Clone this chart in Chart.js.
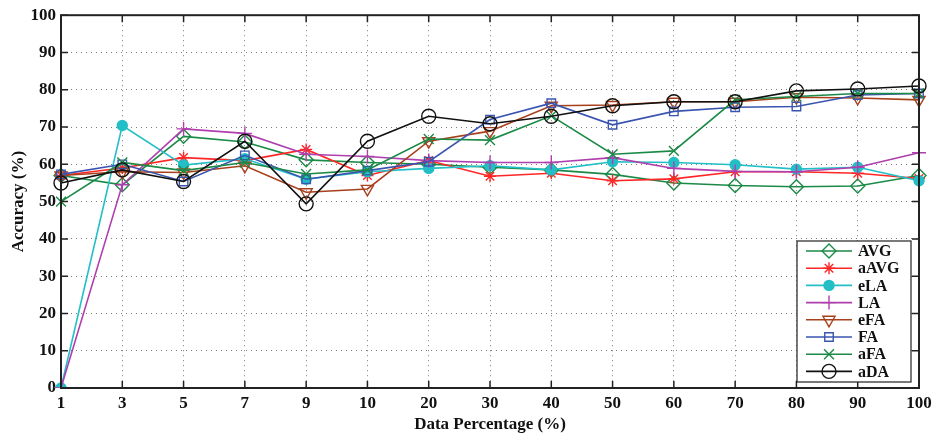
<!DOCTYPE html>
<html>
<head>
<meta charset="utf-8">
<script src="https://cdn.jsdelivr.net/npm/chart.js@4.4.0/dist/chart.umd.min.js"></script>
<style>
  html, body { margin: 0; padding: 0; background: #fff; }
</style>
</head>
<body>
<canvas id="accChart" width="932" height="438"></canvas>
<script>
const percentages = ['1', '3', '5', '7', '9', '10', '20', '30', '40', '50', '60', '70', '80', '90', '100']
const seriesNames = ['AVG', 'aAVG', 'eLA', 'LA', 'eFA', 'FA', 'aFA', 'aDA']

const avg  = [57, 54.5, 67.5, 66, 61.2, 60.5, 60, 59.2, 58.5, 57.3, 55, 54.3, 54, 54.2, 57]
const aAvg = [57, 59, 61.8, 61, 64, 57, 61, 56.8, 57.6, 55.6, 56.1, 58, 58, 57.6, 56.2]
const eLA  = [0, 70.4, 59.8, 61.5, 56, 58, 58.9, 59.6, 58.5, 60.7, 60.5, 59.9, 58.7, 59.2, 55.6]
const LA   = [0, 54.5, 69.5, 68.3, 62.7, 62.1, 61, 60.5, 60.5, 61.8, 58.9, 58.1, 58, 59.2, 63.1]
const eFA  = [57, 58, 57.8, 59.6, 52.5, 53.4, 66.2, 68.9, 75.7, 75.9, 76.8, 76.8, 78, 77.8, 77.3]
const FA   = [57.3, 60, 55.4, 62.4, 56, 58.3, 60.7, 72, 76.4, 70.6, 74.2, 75.3, 75.5, 78.6, 79]
const aFA  = [50, 60.5, 58.3, 60.5, 57.4, 58.5, 66.8, 66.5, 73, 62.7, 63.6, 77.3, 78.2, 79, 79]
const aDA  = [55, 58.5, 55.4, 66.2, 49.4, 66.2, 72.9, 70.9, 72.9, 75.7, 76.8, 76.8, 79.7, 80.2, 81]

const yTicks = [0, 10, 20, 30, 40, 50, 60, 70, 80, 90, 100]

const serif = "'Liberation Serif', 'Times New Roman', serif"

function series(label, data, color, pointStyle, radius, filled, rotation) {
  return {
    label: label,
    data: data,
    borderColor: color,
    backgroundColor: filled ? color : 'rgba(0,0,0,0)',
    borderWidth: 1.6,
    pointStyle: pointStyle,
    pointRadius: radius,
    pointRotation: rotation || 0,
    pointBorderColor: color,
    pointBackgroundColor: filled ? color : 'rgba(0,0,0,0)',
    pointBorderWidth: 1.4,
    tension: 0,
  }
}

const datasets = [
  series(seriesNames[0], avg, '#1b8a47', 'rectRot', 7, false),
  series(seriesNames[1], aAvg, '#ff2626', 'star', 6, false),
  series(seriesNames[2], eLA, '#22bfc6', 'circle', 5, true),
  series(seriesNames[3], LA, '#b03fae', 'cross', 7, false),
  series(seriesNames[4], eFA, '#a8401c', 'triangle', 7, false, 180),
  series(seriesNames[5], FA, '#3a55b0', 'rect', 6, false),
  series(seriesNames[6], aFA, '#1b8a47', 'crossRot', 7, false),
  series(seriesNames[7], aDA, '#111111', 'circle', 7, false),
]
// later series on top, like the original plot
datasets.forEach((d, i) => (d.order = datasets.length - i))

// axes box with inward ticks + boxed legend at lower right
const matlabFrame = {
  id: 'matlabFrame',
  afterDraw(chart) {
    const ctx = chart.ctx
    const area = chart.chartArea
    const xs = chart.scales.x
    const ys = chart.scales.y
    const tick = 7

    ctx.save()
    ctx.strokeStyle = '#222'
    ctx.lineWidth = 2
    ctx.strokeRect(area.left, area.top, area.right - area.left, area.bottom - area.top)

    ctx.lineWidth = 1.5
    ctx.beginPath()
    percentages.forEach((p, i) => {
      const x = xs.getPixelForValue(i)
      ctx.moveTo(x, area.bottom)
      ctx.lineTo(x, area.bottom - tick)
      ctx.moveTo(x, area.top)
      ctx.lineTo(x, area.top + tick)
    })
    yTicks.forEach((v) => {
      const y = ys.getPixelForValue(v)
      ctx.moveTo(area.left, y)
      ctx.lineTo(area.left + tick, y)
      ctx.moveTo(area.right, y)
      ctx.lineTo(area.right - tick, y)
    })
    ctx.stroke()

    // legend
    const boxW = 114
    const boxH = 141
    const bx = area.right - 8 - boxW
    const by = area.bottom - 6 - boxH
    ctx.fillStyle = '#fff'
    ctx.fillRect(bx, by, boxW, boxH)
    ctx.strokeStyle = '#222'
    ctx.lineWidth = 1.2
    ctx.strokeRect(bx, by, boxW, boxH)

    const rowH = 17.2
    ctx.font = 'bold 16px ' + serif
    ctx.textBaseline = 'middle'
    ctx.textAlign = 'left'
    chart.data.datasets.forEach((d, i) => {
      const y = by + 10 + i * rowH
      ctx.strokeStyle = d.borderColor
      ctx.lineWidth = 1.6
      ctx.beginPath()
      ctx.moveTo(bx + 9, y)
      ctx.lineTo(bx + 55, y)
      ctx.stroke()
      ctx.fillStyle = d.pointBackgroundColor
      ctx.strokeStyle = d.pointBorderColor
      ctx.lineWidth = d.pointBorderWidth
      Chart.helpers.drawPoint(ctx, {
        pointStyle: d.pointStyle,
        radius: d.pointRadius,
        rotation: d.pointRotation,
        borderWidth: d.pointBorderWidth,
      }, bx + 32, y)
      ctx.fillStyle = '#111'
      ctx.fillText(d.label, bx + 61, y + 1)
    })
    ctx.restore()
  },
}

new Chart(document.getElementById('accChart'), {
  type: 'line',
  data: { labels: percentages, datasets: datasets },
  options: {
    responsive: false,
    animation: false,
    devicePixelRatio: 1,
    layout: { padding: { top: 11, right: 13, left: 0, bottom: 0 } },
    plugins: { legend: { display: false }, tooltip: { enabled: false } },
    scales: {
      x: {
        type: 'category',
        offset: false,
        grid: { color: '#7a7a7a', lineWidth: 1, drawTicks: false },
        border: { display: false, dash: [1, 4] },
        ticks: {
          color: '#111',
          padding: 5,
          maxRotation: 0,
          autoSkip: false,
          font: { family: serif, size: 17, weight: 'bold' },
        },
        title: {
          display: true,
          text: 'Data Percentage (%)',
          color: '#111',
          padding: { top: 0, bottom: 3 },
          font: { family: serif, size: 17, weight: 'bold' },
        },
        afterFit: (scale) => {
          scale.height = 50
          scale.paddingLeft = 0
          scale.paddingRight = 0
        },
      },
      y: {
        min: 0,
        max: 100,
        grid: { color: '#7a7a7a', lineWidth: 1, drawTicks: false },
        border: { display: false, dash: [1, 4] },
        ticks: {
          stepSize: 10,
          color: '#111',
          padding: 5,
          font: { family: serif, size: 17, weight: 'bold' },
        },
        title: {
          display: true,
          text: 'Accuracy (%)',
          color: '#111',
          padding: { top: 8, bottom: 0 },
          font: { family: serif, size: 17, weight: 'bold' },
        },
        afterFit: (scale) => {
          scale.width = 61
        },
      },
    },
  },
  plugins: [matlabFrame],
})
</script>
</body>
</html>
